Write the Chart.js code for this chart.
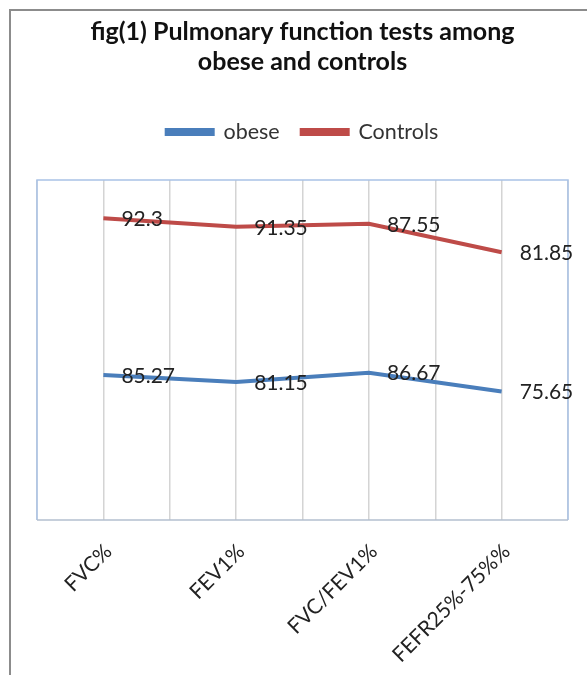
<!DOCTYPE html>
<html>
<head>
<meta charset="utf-8">
<script src="https://cdn.jsdelivr.net/npm/chart.js@4/dist/chart.umd.min.js"></script>
<style>
  html, body { margin: 0; padding: 0; background: #fff; }
  #wrap { width: 587px; height: 675px; }
</style>
</head>
<body>
<div id="wrap"><canvas id="pftChart" width="587" height="675"></canvas></div>
<script>
const tests = ['FVC%', 'FEV1%', 'FVC/FEV1%', 'FEFR25%-75%%'];
const obese = [85.27, 81.15, 86.67, 75.65];
const controls = [92.3, 91.35, 87.55, 81.85];

const font = 'Lato, "Liberation Sans", sans-serif';

// value labels to the right of each point (raw values, not stacked)
const pointLabels = {
    id: 'pointLabels',
    afterDatasetsDraw(chart) {
        const ctx = chart.ctx;
        ctx.save();
        ctx.font = '21px ' + font;
        ctx.fillStyle = '#222';
        ctx.textBaseline = 'middle';
        ctx.textAlign = 'left';
        chart.data.datasets.forEach((ds, i) => {
            chart.getDatasetMeta(i).data.forEach((pt, j) => {
                ctx.fillText(ds.data[j], pt.x + 18, pt.y + 1);
            });
        });
        ctx.restore();
    }
};

// rotated category labels, right end just past the tick
const xLabels = {
    id: 'xLabels',
    afterDraw(chart) {
        const ctx = chart.ctx;
        const sc = chart.scales.x;
        ctx.save();
        ctx.font = '21px ' + font;
        ctx.fillStyle = '#222';
        ctx.textAlign = 'right';
        ctx.textBaseline = 'middle';
        tests.forEach((t, i) => {
            ctx.save();
            ctx.translate(sc.getPixelForValue(i) + 5, sc.top + 28);
            ctx.rotate(-Math.PI / 4);
            ctx.fillText(t, 0, 0);
            ctx.restore();
        });
        ctx.restore();
    }
};

// outer figure frame + plot area border
const frames = {
    id: 'frames',
    beforeDatasetsDraw(chart) {
        const ctx = chart.ctx;
        const a = chart.chartArea;
        ctx.save();
        ctx.lineWidth = 2;
        ctx.strokeStyle = '#8c8c8c';
        ctx.beginPath();
        ctx.moveTo(10, 675);
        ctx.lineTo(10, 10);
        ctx.lineTo(587, 10);
        ctx.stroke();
        ctx.lineWidth = 1.5;
        ctx.strokeStyle = '#a9c2e6';
        ctx.beginPath();
        ctx.moveTo(a.left, a.bottom);
        ctx.lineTo(a.left, a.top);
        ctx.lineTo(a.right, a.top);
        ctx.lineTo(a.right, a.bottom);
        ctx.stroke();
        ctx.strokeStyle = '#b3bfcf';
        ctx.beginPath();
        ctx.moveTo(a.left, a.bottom);
        ctx.lineTo(a.right, a.bottom);
        ctx.stroke();
        ctx.restore();
    }
};

const ctx = document.getElementById('pftChart').getContext('2d');
const pftChart = new Chart(ctx, {
    type: 'line',
    data: {
        labels: tests,
        datasets: [{
            label: 'obese',
            data: obese,
            borderColor: '#4a7ebb',
            backgroundColor: '#4a7ebb',
            borderWidth: 4,
            pointRadius: 0,
            fill: false,
            tension: 0
        }, {
            label: 'Controls',
            data: controls,
            borderColor: '#be4b48',
            backgroundColor: '#be4b48',
            borderWidth: 4,
            pointRadius: 0,
            fill: false,
            tension: 0
        }]
    },
    options: {
        responsive: false,
        animation: false,
        layout: {
            padding: { left: 37, right: 19, top: 0, bottom: 0 }
        },
        plugins: {
            title: {
                display: true,
                text: ['fig(1) Pulmonary function tests among', 'obese and controls'],
                color: '#111',
                font: { family: font, size: 25, weight: 'bold', lineHeight: 1.2 },
                padding: { top: 17, bottom: 22.25 }
            },
            legend: {
                position: 'top',
                align: 'center',
                labels: {
                    color: '#333',
                    font: { family: font, size: 21.5 },
                    boxWidth: 46,
                    boxHeight: 4,
                    padding: 22
                }
            },
            tooltip: { enabled: false }
        },
        scales: {
            x: {
                type: 'category',
                position: 'bottom',
                offset: true,
                grid: {
                    offset: false,
                    color: '#d4d4d4',
                    lineWidth: 1.5,
                    drawTicks: false
                },
                border: { display: false },
                ticks: { display: false },
                afterFit(scale) { scale.height = 155; }
            },
            x2: {
                type: 'category',
                position: 'top',
                labels: tests,
                offset: true,
                grid: {
                    offset: true,
                    color: '#d4d4d4',
                    lineWidth: 1.5,
                    drawTicks: false
                },
                border: { display: false },
                ticks: { display: false },
                afterFit(scale) { scale.height = 27.25; }
            },
            y: {
                display: false,
                stacked: true,
                min: 0,
                max: 200
            }
        }
    },
    plugins: [frames, pointLabels, xLabels]
});
</script>
</body>
</html>
